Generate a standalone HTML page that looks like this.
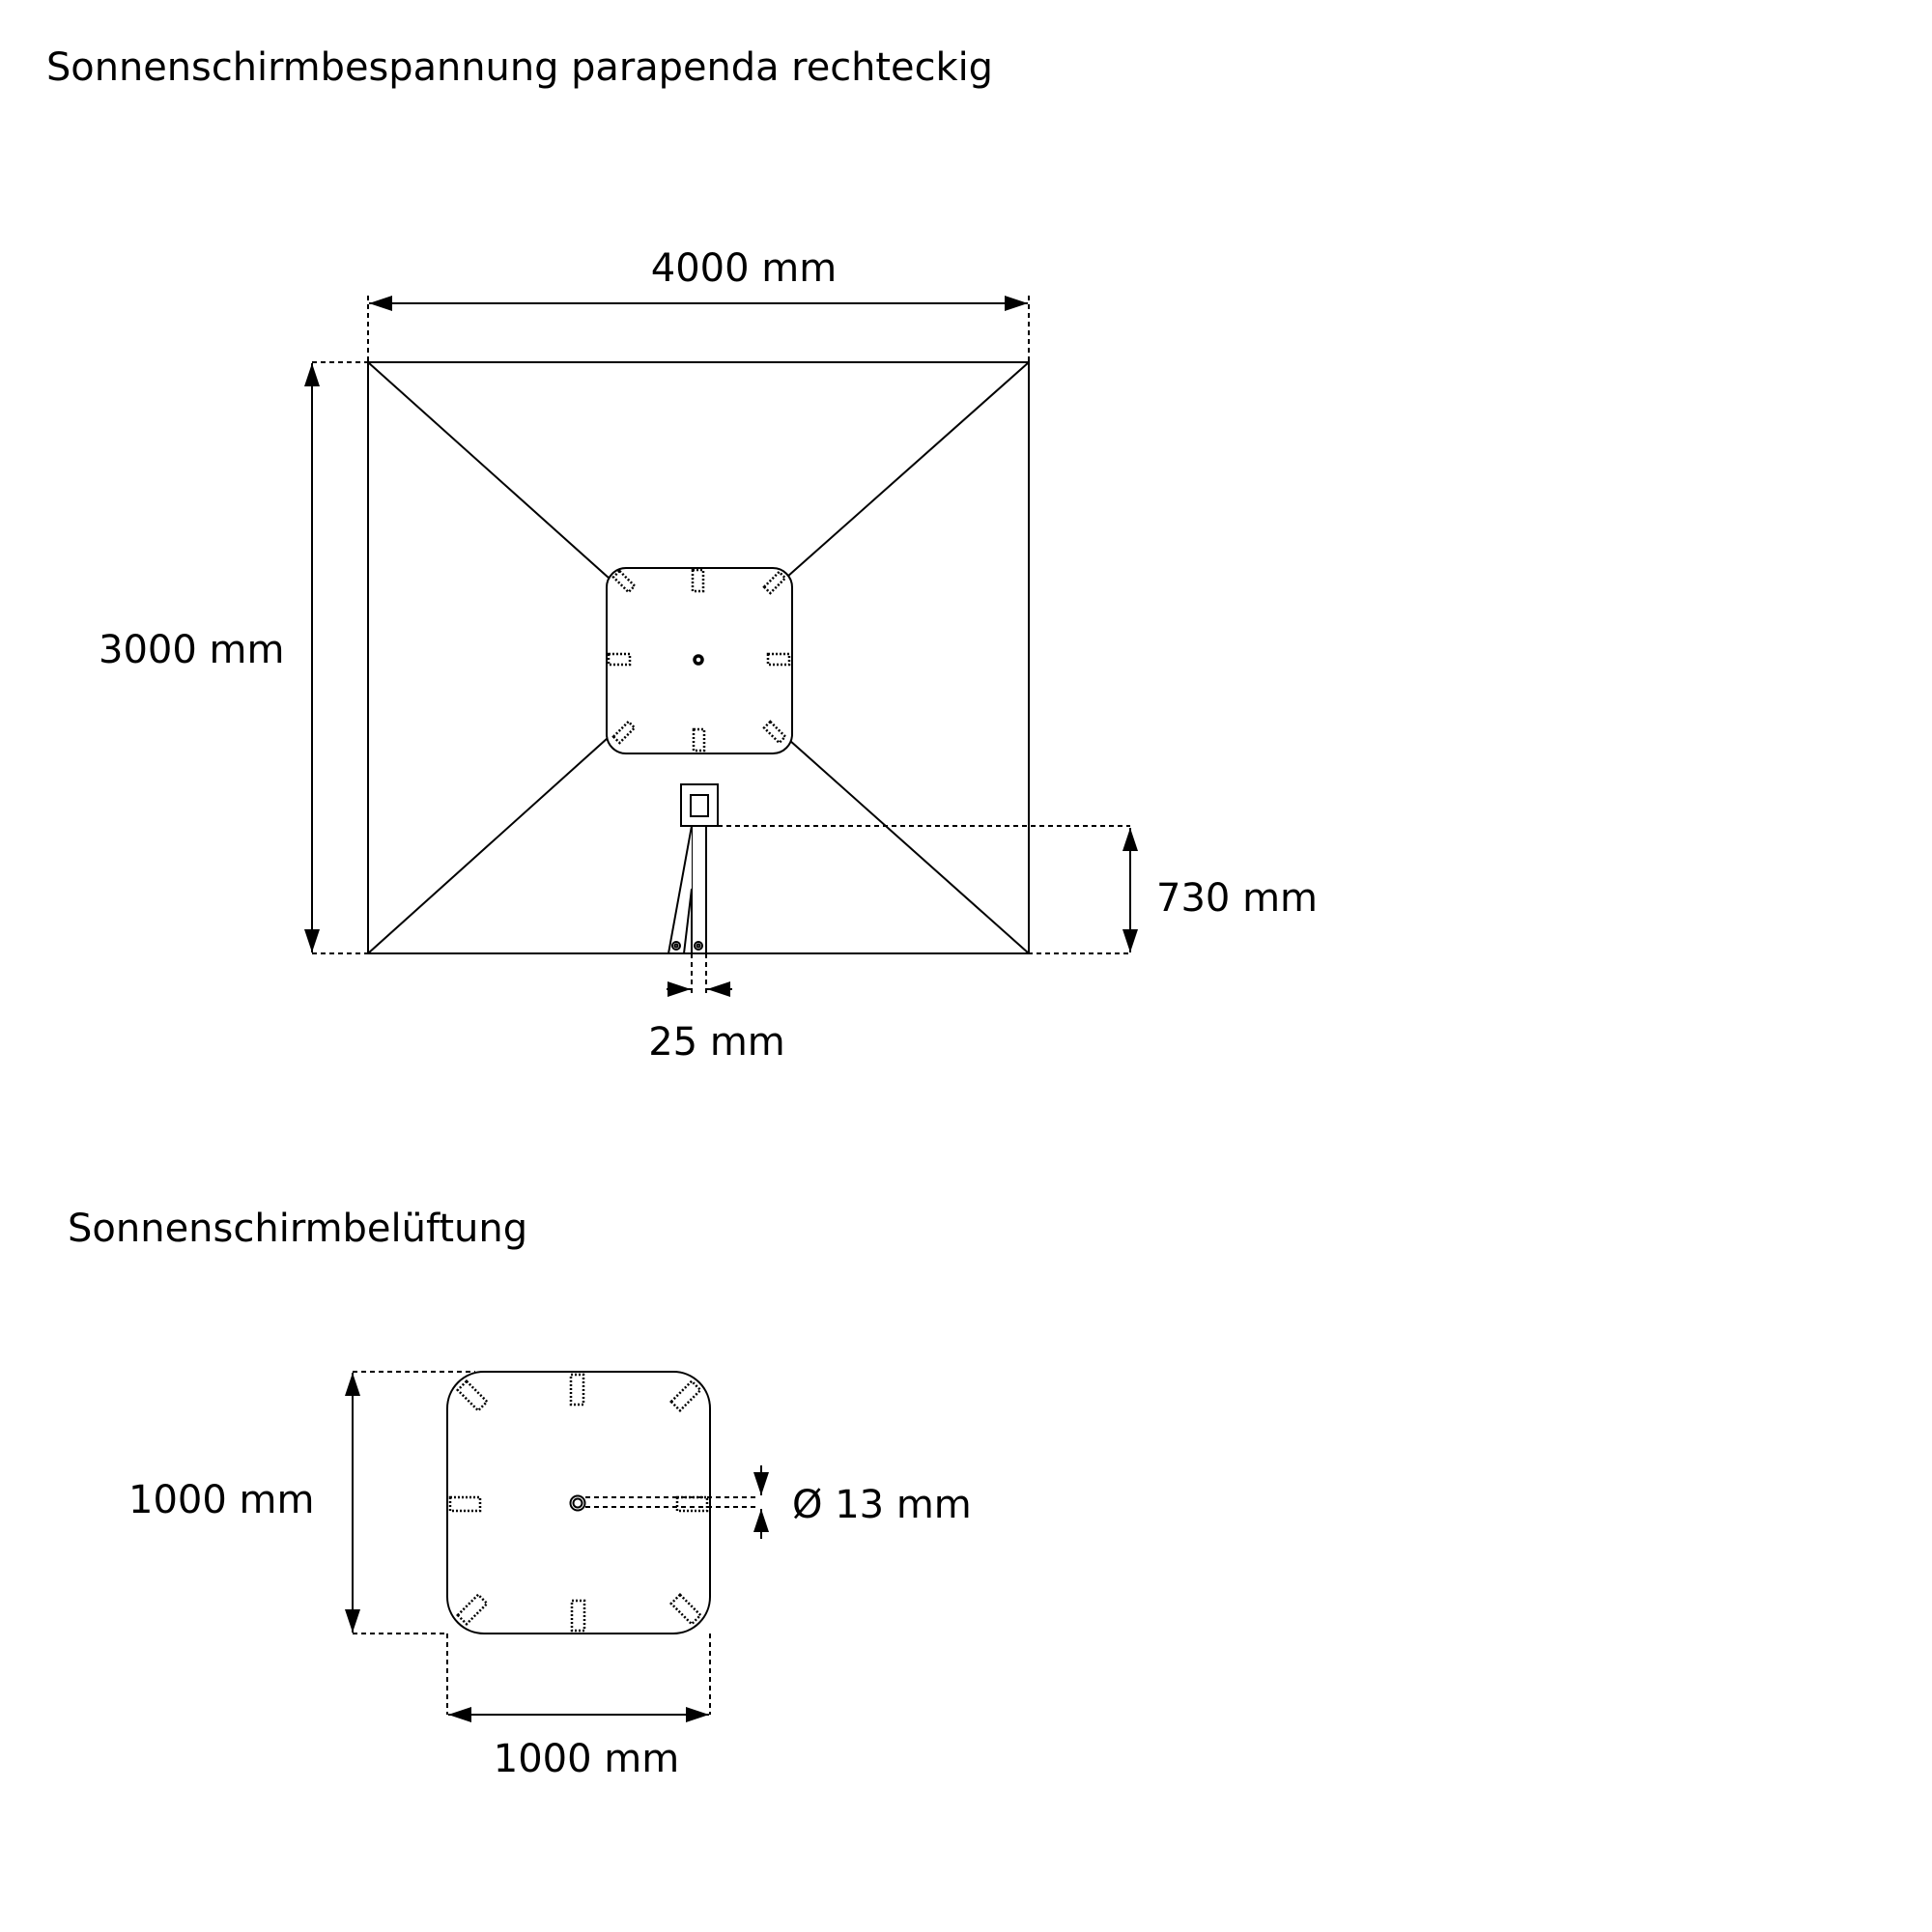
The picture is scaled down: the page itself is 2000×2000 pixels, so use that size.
<!DOCTYPE html>
<html><head><meta charset="utf-8"><style>html,body{margin:0;padding:0;background:#fff}svg{display:block}</style></head>
<body>
<svg xmlns="http://www.w3.org/2000/svg" width="2000" height="2000" viewBox="0 0 2000 2000">
<defs>
<marker id="a" viewBox="0 0 24 16" refX="24" refY="8" markerWidth="24" markerHeight="16" markerUnits="userSpaceOnUse" orient="auto-start-reverse"><path d="M0,0L24,8L0,16Z" fill="#000"/></marker>
</defs>
<g font-family="'DejaVu Sans','Liberation Sans',sans-serif" font-size="40" fill="#000">
<text x="48" y="83" textLength="980" lengthAdjust="spacingAndGlyphs">Sonnenschirmbespannung parapenda rechteckig</text>
<text x="770" y="291" text-anchor="middle">4000 mm</text>
<text x="102" y="686">3000 mm</text>
<text x="1197" y="943">730 mm</text>
<text x="742" y="1092" text-anchor="middle">25 mm</text>
<text x="70" y="1285">Sonnenschirmbelüftung</text>
<text x="133" y="1566">1000 mm</text>
<text x="607" y="1834" text-anchor="middle">1000 mm</text>
<text x="820" y="1571">Ø 13 mm</text>
</g>
<g fill="none" stroke="#000" stroke-width="2">
<rect x="381" y="375" width="684" height="612"/>
<line x1="381" y1="375" x2="631" y2="599"/>
<line x1="1065" y1="375" x2="815" y2="597"/>
<line x1="381" y1="987" x2="629" y2="764"/>
<line x1="1065" y1="987" x2="817" y2="766"/>
<rect x="628" y="588" width="192" height="192" rx="20" fill="#fff"/>
<circle cx="723" cy="683" r="4" stroke-width="3.5"/>
<g stroke-dasharray="2 2" stroke-width="2.5">
<rect x="717" y="590" width="11" height="22"/>
<rect x="718" y="755" width="11" height="22"/>
<rect x="630" y="677" width="22" height="11"/>
<rect x="795" y="677" width="22" height="11"/>
<rect x="-11" y="-4.5" width="22" height="9" transform="translate(646,602) rotate(45)"/>
<rect x="-11" y="-4.5" width="22" height="9" transform="translate(802,603) rotate(-45)"/>
<rect x="-11" y="-4.5" width="22" height="9" transform="translate(646,758) rotate(-45)"/>
<rect x="-11" y="-4.5" width="22" height="9" transform="translate(802,758) rotate(45)"/>
</g>
<rect x="705" y="812" width="38" height="43" fill="#fff"/>
<rect x="715" y="823" width="18" height="22"/>
<rect x="716" y="855" width="15" height="132" fill="#fff"/>
<path d="M716,855 L692,987 L708,987 L716,920" fill="#fff"/>
<circle cx="700" cy="979" r="4"/><circle cx="700" cy="979" r="1.5"/>
<circle cx="723" cy="979" r="4"/><circle cx="723" cy="979" r="1.5"/>
<g stroke-dasharray="5 4">
<line x1="381" y1="306" x2="381" y2="374"/>
<line x1="1065" y1="306" x2="1065" y2="374"/>
<line x1="323" y1="375" x2="447" y2="375"/>
<line x1="323" y1="987" x2="381" y2="987"/>
<line x1="743" y1="855" x2="1170" y2="855"/>
<line x1="731" y1="987" x2="1170" y2="987"/>
<line x1="716" y1="987" x2="716" y2="1030"/>
<line x1="731" y1="987" x2="731" y2="1030"/>
</g>
<line x1="382" y1="314" x2="1064" y2="314" marker-start="url(#a)" marker-end="url(#a)"/>
<line x1="323" y1="376" x2="323" y2="986" marker-start="url(#a)" marker-end="url(#a)"/>
<line x1="1170" y1="857" x2="1170" y2="986" marker-start="url(#a)" marker-end="url(#a)"/>
<line x1="690" y1="1024" x2="715" y2="1024" marker-end="url(#a)"/>
<line x1="758" y1="1024" x2="732" y2="1024" marker-end="url(#a)"/>
<rect x="463" y="1420" width="272" height="271" rx="38"/>
<circle cx="598" cy="1556" r="7.5"/><circle cx="598" cy="1556" r="4.5"/>
<g stroke-dasharray="2 2" stroke-width="2.5">
<rect x="591" y="1423" width="13" height="31"/>
<rect x="592" y="1657" width="13" height="31"/>
<rect x="466" y="1550" width="31" height="14"/>
<rect x="701" y="1550" width="31" height="14"/>
<rect x="-15" y="-6.5" width="30" height="13" transform="translate(489,1445) rotate(45)"/>
<rect x="-15" y="-6.5" width="30" height="13" transform="translate(710,1445) rotate(-45)"/>
<rect x="-15" y="-6.5" width="30" height="13" transform="translate(489,1666) rotate(-45)"/>
<rect x="-15" y="-6.5" width="30" height="13" transform="translate(710,1666) rotate(45)"/>
</g>
<g stroke-dasharray="5 4">
<line x1="606" y1="1550" x2="785" y2="1550"/>
<line x1="606" y1="1560" x2="785" y2="1560"/>
<line x1="365" y1="1420" x2="492" y2="1420"/>
<line x1="365" y1="1691" x2="463" y2="1691"/>
<line x1="463" y1="1691" x2="463" y2="1775"/>
<line x1="735" y1="1691" x2="735" y2="1775"/>
</g>
<line x1="365" y1="1421" x2="365" y2="1690" marker-start="url(#a)" marker-end="url(#a)"/>
<line x1="464" y1="1775" x2="734" y2="1775" marker-start="url(#a)" marker-end="url(#a)"/>
<line x1="788" y1="1517" x2="788" y2="1548" marker-end="url(#a)"/>
<line x1="788" y1="1593" x2="788" y2="1562" marker-end="url(#a)"/>
</g>
</svg>
</body></html>
